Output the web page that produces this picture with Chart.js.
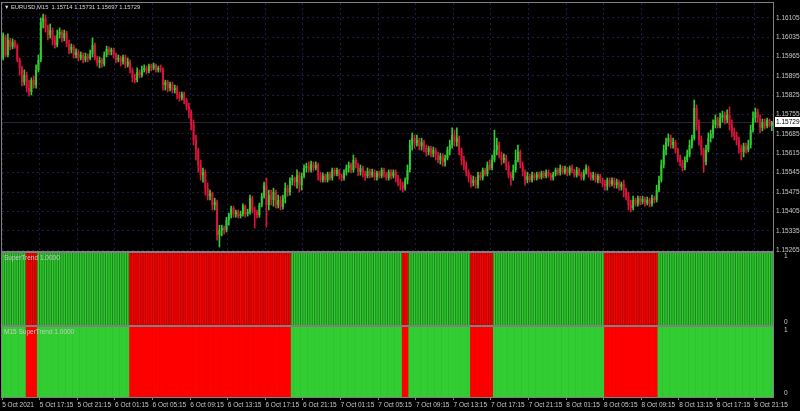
<!DOCTYPE html>
<html>
<head>
<meta charset="utf-8">
<title>EURUSD,M15 SuperTrend</title>
<script src="https://cdn.jsdelivr.net/npm/chart.js@4.4.0/dist/chart.umd.min.js"></script>
<style>
  html, body { margin: 0; padding: 0; background: #000; }
  #wrap { width: 800px; height: 411px; }
</style>
</head>
<body>
<div id="wrap"><canvas id="chart" width="800" height="411"></canvas></div>
<script>
// EURUSD M15 candles (one row = 10 bars)
const opens = [
  1.15960,1.16036,1.15971,1.16025,1.16000,1.16018,1.16003,1.15953,1.15924,1.15873,
  1.15898,1.15851,1.15837,1.15880,1.15862,1.15917,1.15953,1.16090,1.16105,1.16069,
  1.16043,1.16061,1.16025,1.16007,1.16043,1.16054,1.16032,1.16051,1.16011,1.15989,
  1.16000,1.15971,1.15982,1.15960,1.15971,1.15953,1.15967,1.15960,1.15975,1.16007,
  1.15960,1.15942,1.15953,1.15938,1.15971,1.15993,1.15982,1.15989,1.15971,1.15953,
  1.15960,1.15946,1.15964,1.15935,1.15946,1.15917,1.15888,1.15880,1.15909,1.15898,
  1.15917,1.15924,1.15913,1.15931,1.15924,1.15935,1.15917,1.15924,1.15917,1.15862,
  1.15873,1.15851,1.15866,1.15844,1.15851,1.15826,1.15815,1.15830,1.15808,1.15786,
  1.15765,1.15717,1.15663,1.15627,1.15573,1.15536,1.15547,1.15489,1.15460,1.15471,
  1.15428,1.15439,1.15319,1.15337,1.15345,1.15337,1.15374,1.15392,1.15417,1.15395,
  1.15403,1.15388,1.15395,1.15424,1.15395,1.15403,1.15453,1.15410,1.15403,1.15392,
  1.15428,1.15460,1.15500,1.15428,1.15464,1.15446,1.15475,1.15428,1.15446,1.15421,
  1.15453,1.15489,1.15475,1.15518,1.15526,1.15511,1.15536,1.15500,1.15533,1.15562,
  1.15569,1.15555,1.15576,1.15562,1.15573,1.15536,1.15518,1.15533,1.15518,1.15540,
  1.15526,1.15555,1.15540,1.15555,1.15533,1.15526,1.15547,1.15562,1.15573,1.15555,
  1.15591,1.15573,1.15547,1.15562,1.15540,1.15533,1.15551,1.15536,1.15547,1.15529,
  1.15544,1.15533,1.15555,1.15540,1.15526,1.15547,1.15533,1.15547,1.15526,1.15511,
  1.15500,1.15489,1.15518,1.15555,1.15645,1.15670,1.15652,1.15663,1.15641,1.15656,
  1.15634,1.15620,1.15634,1.15613,1.15627,1.15609,1.15591,1.15605,1.15584,1.15598,
  1.15627,1.15645,1.15681,1.15656,1.15670,1.15627,1.15591,1.15573,1.15547,1.15526,
  1.15508,1.15518,1.15500,1.15536,1.15526,1.15555,1.15540,1.15573,1.15562,1.15591,
  1.15627,1.15645,1.15609,1.15591,1.15598,1.15573,1.15536,1.15526,1.15555,1.15591,
  1.15620,1.15573,1.15547,1.15518,1.15533,1.15518,1.15536,1.15526,1.15540,1.15529,
  1.15544,1.15533,1.15547,1.15536,1.15526,1.15540,1.15555,1.15544,1.15562,1.15547,
  1.15558,1.15544,1.15562,1.15551,1.15536,1.15555,1.15540,1.15526,1.15547,1.15562,
  1.15540,1.15526,1.15536,1.15518,1.15533,1.15518,1.15504,1.15497,1.15518,1.15504,
  1.15518,1.15500,1.15511,1.15493,1.15504,1.15482,1.15460,1.15428,1.15417,1.15446,
  1.15432,1.15453,1.15439,1.15450,1.15435,1.15446,1.15432,1.15453,1.15446,1.15482,
  1.15518,1.15573,1.15627,1.15656,1.15670,1.15645,1.15656,1.15627,1.15598,1.15580,
  1.15562,1.15591,1.15609,1.15645,1.15670,1.15779,1.15717,1.15663,1.15627,1.15584,
  1.15627,1.15670,1.15685,1.15717,1.15736,1.15714,1.15743,1.15754,1.15736,1.15754,
  1.15717,1.15692,1.15678,1.15663,1.15634,1.15620,1.15641,1.15627,1.15645,1.15699,
  1.15743,1.15765,1.15743,1.15707,1.15728,1.15714,1.15736,1.15714
];
const highs = [
  1.16051,1.16043,1.16047,1.16032,1.16029,1.16025,1.16011,1.15960,1.15931,1.15917,
  1.15909,1.15880,1.15888,1.15895,1.15935,1.15971,1.16105,1.16119,1.16116,1.16079,
  1.16083,1.16069,1.16040,1.16061,1.16069,1.16061,1.16061,1.16058,1.16025,1.16011,
  1.16007,1.15993,1.15989,1.15982,1.15978,1.15978,1.15975,1.15989,1.16032,1.16014,
  1.15967,1.15964,1.15960,1.15982,1.16003,1.16000,1.15996,1.15996,1.15978,1.15971,
  1.15967,1.15971,1.15971,1.15960,1.15953,1.15924,1.15902,1.15924,1.15917,1.15931,
  1.15935,1.15931,1.15938,1.15938,1.15942,1.15938,1.15931,1.15935,1.15924,1.15880,
  1.15880,1.15873,1.15873,1.15862,1.15859,1.15837,1.15837,1.15837,1.15815,1.15797,
  1.15772,1.15736,1.15681,1.15634,1.15591,1.15562,1.15555,1.15508,1.15482,1.15475,
  1.15453,1.15446,1.15355,1.15355,1.15352,1.15384,1.15399,1.15424,1.15424,1.15410,
  1.15410,1.15406,1.15432,1.15428,1.15413,1.15464,1.15460,1.15421,1.15410,1.15435,
  1.15471,1.15511,1.15526,1.15482,1.15482,1.15489,1.15482,1.15464,1.15460,1.15464,
  1.15508,1.15500,1.15526,1.15536,1.15529,1.15555,1.15547,1.15544,1.15573,1.15580,
  1.15584,1.15587,1.15584,1.15584,1.15580,1.15547,1.15544,1.15540,1.15547,1.15547,
  1.15562,1.15562,1.15562,1.15558,1.15540,1.15555,1.15573,1.15584,1.15580,1.15609,
  1.15598,1.15580,1.15573,1.15569,1.15551,1.15562,1.15558,1.15558,1.15555,1.15551,
  1.15551,1.15562,1.15562,1.15547,1.15555,1.15555,1.15555,1.15555,1.15536,1.15522,
  1.15511,1.15526,1.15573,1.15663,1.15689,1.15681,1.15681,1.15670,1.15670,1.15663,
  1.15645,1.15641,1.15641,1.15638,1.15634,1.15620,1.15616,1.15613,1.15609,1.15638,
  1.15663,1.15707,1.15699,1.15707,1.15678,1.15634,1.15605,1.15584,1.15555,1.15536,
  1.15533,1.15529,1.15547,1.15547,1.15562,1.15562,1.15584,1.15591,1.15609,1.15699,
  1.15670,1.15656,1.15620,1.15613,1.15609,1.15584,1.15547,1.15573,1.15627,1.15645,
  1.15627,1.15584,1.15555,1.15547,1.15540,1.15547,1.15544,1.15547,1.15547,1.15551,
  1.15551,1.15555,1.15555,1.15544,1.15547,1.15562,1.15562,1.15573,1.15569,1.15569,
  1.15565,1.15569,1.15573,1.15558,1.15565,1.15562,1.15547,1.15555,1.15573,1.15569,
  1.15547,1.15547,1.15544,1.15540,1.15540,1.15526,1.15518,1.15526,1.15526,1.15526,
  1.15526,1.15522,1.15518,1.15511,1.15518,1.15489,1.15475,1.15446,1.15460,1.15453,
  1.15460,1.15460,1.15460,1.15457,1.15457,1.15453,1.15464,1.15460,1.15500,1.15533,
  1.15591,1.15645,1.15670,1.15685,1.15681,1.15670,1.15663,1.15634,1.15609,1.15591,
  1.15602,1.15627,1.15663,1.15681,1.15808,1.15790,1.15736,1.15678,1.15634,1.15645,
  1.15689,1.15699,1.15736,1.15754,1.15746,1.15761,1.15768,1.15765,1.15772,1.15783,
  1.15736,1.15707,1.15692,1.15674,1.15645,1.15652,1.15652,1.15663,1.15717,1.15765,
  1.15779,1.15775,1.15754,1.15739,1.15739,1.15743,1.15739,1.15731
];
const lows = [
  1.15953,1.15964,1.15964,1.15989,1.15993,1.15996,1.15946,1.15898,1.15859,1.15862,
  1.15837,1.15822,1.15826,1.15851,1.15851,1.15909,1.15946,1.16069,1.16054,1.16025,
  1.16032,1.16007,1.15996,1.16000,1.16032,1.16018,1.16022,1.16000,1.15975,1.15978,
  1.15960,1.15960,1.15949,1.15953,1.15942,1.15946,1.15946,1.15953,1.15964,1.15953,
  1.15931,1.15924,1.15927,1.15931,1.15964,1.15971,1.15971,1.15960,1.15942,1.15946,
  1.15931,1.15938,1.15924,1.15927,1.15906,1.15873,1.15870,1.15873,1.15888,1.15891,
  1.15909,1.15902,1.15906,1.15913,1.15917,1.15909,1.15909,1.15909,1.15844,1.15844,
  1.15837,1.15841,1.15833,1.15833,1.15812,1.15804,1.15808,1.15794,1.15772,1.15743,
  1.15699,1.15645,1.15591,1.15547,1.15518,1.15511,1.15464,1.15446,1.15446,1.15410,
  1.15410,1.15301,1.15276,1.15316,1.15323,1.15330,1.15355,1.15381,1.15384,1.15384,
  1.15381,1.15381,1.15388,1.15384,1.15388,1.15395,1.15399,1.15345,1.15381,1.15384,
  1.15421,1.15453,1.15348,1.15410,1.15428,1.15424,1.15417,1.15417,1.15410,1.15413,
  1.15435,1.15460,1.15464,1.15500,1.15497,1.15489,1.15475,1.15482,1.15526,1.15547,
  1.15547,1.15547,1.15551,1.15555,1.15518,1.15511,1.15511,1.15511,1.15511,1.15518,
  1.15518,1.15533,1.15533,1.15522,1.15515,1.15518,1.15536,1.15547,1.15544,1.15547,
  1.15562,1.15533,1.15536,1.15529,1.15518,1.15526,1.15526,1.15529,1.15518,1.15518,
  1.15526,1.15526,1.15529,1.15518,1.15518,1.15522,1.15526,1.15511,1.15497,1.15482,
  1.15475,1.15482,1.15504,1.15547,1.15627,1.15634,1.15641,1.15627,1.15627,1.15620,
  1.15605,1.15609,1.15602,1.15602,1.15591,1.15580,1.15576,1.15569,1.15569,1.15591,
  1.15609,1.15634,1.15641,1.15641,1.15609,1.15573,1.15555,1.15533,1.15511,1.15493,
  1.15497,1.15489,1.15489,1.15518,1.15518,1.15533,1.15533,1.15555,1.15555,1.15584,
  1.15609,1.15598,1.15573,1.15580,1.15555,1.15526,1.15500,1.15518,1.15547,1.15584,
  1.15562,1.15533,1.15500,1.15508,1.15511,1.15511,1.15518,1.15518,1.15522,1.15522,
  1.15526,1.15526,1.15529,1.15518,1.15518,1.15533,1.15536,1.15536,1.15540,1.15540,
  1.15533,1.15536,1.15544,1.15529,1.15529,1.15533,1.15518,1.15518,1.15540,1.15529,
  1.15518,1.15518,1.15511,1.15508,1.15508,1.15493,1.15482,1.15482,1.15493,1.15497,
  1.15489,1.15489,1.15482,1.15482,1.15457,1.15446,1.15410,1.15403,1.15410,1.15424,
  1.15424,1.15428,1.15432,1.15424,1.15428,1.15421,1.15424,1.15435,1.15439,1.15475,
  1.15511,1.15562,1.15609,1.15641,1.15634,1.15634,1.15616,1.15584,1.15569,1.15551,
  1.15555,1.15584,1.15602,1.15634,1.15663,1.15699,1.15645,1.15609,1.15547,1.15573,
  1.15620,1.15656,1.15670,1.15707,1.15707,1.15707,1.15728,1.15721,1.15725,1.15699,
  1.15674,1.15663,1.15645,1.15616,1.15591,1.15602,1.15616,1.15620,1.15634,1.15692,
  1.15728,1.15728,1.15689,1.15696,1.15703,1.15707,1.15710,1.15697
];
const closes = [
  1.16043,1.15971,1.16025,1.16000,1.16018,1.16003,1.15953,1.15924,1.15873,1.15898,
  1.15851,1.15837,1.15880,1.15862,1.15917,1.15953,1.16090,1.16105,1.16069,1.16043,
  1.16061,1.16025,1.16007,1.16043,1.16054,1.16032,1.16051,1.16011,1.15989,1.16000,
  1.15971,1.15982,1.15960,1.15971,1.15953,1.15967,1.15960,1.15975,1.16007,1.15960,
  1.15942,1.15953,1.15938,1.15971,1.15993,1.15982,1.15989,1.15971,1.15953,1.15960,
  1.15946,1.15964,1.15935,1.15946,1.15917,1.15888,1.15880,1.15909,1.15898,1.15917,
  1.15924,1.15913,1.15931,1.15924,1.15935,1.15917,1.15924,1.15917,1.15862,1.15873,
  1.15851,1.15866,1.15844,1.15851,1.15826,1.15815,1.15830,1.15808,1.15786,1.15765,
  1.15717,1.15663,1.15627,1.15573,1.15536,1.15547,1.15489,1.15460,1.15471,1.15428,
  1.15439,1.15319,1.15337,1.15345,1.15337,1.15374,1.15392,1.15417,1.15395,1.15403,
  1.15388,1.15395,1.15424,1.15395,1.15403,1.15453,1.15410,1.15403,1.15392,1.15428,
  1.15460,1.15500,1.15428,1.15464,1.15446,1.15475,1.15428,1.15446,1.15421,1.15453,
  1.15489,1.15475,1.15518,1.15526,1.15511,1.15536,1.15500,1.15533,1.15562,1.15569,
  1.15555,1.15576,1.15562,1.15573,1.15536,1.15518,1.15533,1.15518,1.15540,1.15526,
  1.15555,1.15540,1.15555,1.15533,1.15526,1.15547,1.15562,1.15573,1.15555,1.15591,
  1.15573,1.15547,1.15562,1.15540,1.15533,1.15551,1.15536,1.15547,1.15529,1.15544,
  1.15533,1.15555,1.15540,1.15526,1.15547,1.15533,1.15547,1.15526,1.15511,1.15500,
  1.15489,1.15518,1.15555,1.15645,1.15670,1.15652,1.15663,1.15641,1.15656,1.15634,
  1.15620,1.15634,1.15613,1.15627,1.15609,1.15591,1.15605,1.15584,1.15598,1.15627,
  1.15645,1.15681,1.15656,1.15670,1.15627,1.15591,1.15573,1.15547,1.15526,1.15508,
  1.15518,1.15500,1.15536,1.15526,1.15555,1.15540,1.15573,1.15562,1.15591,1.15627,
  1.15645,1.15609,1.15591,1.15598,1.15573,1.15536,1.15526,1.15555,1.15591,1.15620,
  1.15573,1.15547,1.15518,1.15533,1.15518,1.15536,1.15526,1.15540,1.15529,1.15544,
  1.15533,1.15547,1.15536,1.15526,1.15540,1.15555,1.15544,1.15562,1.15547,1.15558,
  1.15544,1.15562,1.15551,1.15536,1.15555,1.15540,1.15526,1.15547,1.15562,1.15540,
  1.15526,1.15536,1.15518,1.15533,1.15518,1.15504,1.15497,1.15518,1.15504,1.15518,
  1.15500,1.15511,1.15493,1.15504,1.15482,1.15460,1.15428,1.15417,1.15446,1.15432,
  1.15453,1.15439,1.15450,1.15435,1.15446,1.15432,1.15453,1.15446,1.15482,1.15518,
  1.15573,1.15627,1.15656,1.15670,1.15645,1.15656,1.15627,1.15598,1.15580,1.15562,
  1.15591,1.15609,1.15645,1.15670,1.15779,1.15717,1.15663,1.15627,1.15584,1.15627,
  1.15670,1.15685,1.15717,1.15736,1.15714,1.15743,1.15754,1.15736,1.15754,1.15717,
  1.15692,1.15678,1.15663,1.15634,1.15620,1.15641,1.15627,1.15645,1.15699,1.15743,
  1.15765,1.15743,1.15707,1.15728,1.15714,1.15736,1.15714,1.15729
];

// SuperTrend direction per bar: 1 = up (green), 0 = down (red)
const trend = [
  1,1,1,1,1,1,1,1,1,1,  0,0,0,0,0,1,1,1,1,1,  1,1,1,1,1,1,1,1,1,1,
  1,1,1,1,1,1,1,1,1,1,  1,1,1,1,1,1,1,1,1,1,  1,1,1,1,0,0,0,0,0,0,
  0,0,0,0,0,0,0,0,0,0,  0,0,0,0,0,0,0,0,0,0,  0,0,0,0,0,0,0,0,0,0,
  0,0,0,0,0,0,0,0,0,0,  0,0,0,0,0,0,0,0,0,0,  0,0,0,0,0,0,0,0,0,0,
  0,0,0,1,1,1,1,1,1,1,  1,1,1,1,1,1,1,1,1,1,  1,1,1,1,1,1,1,1,1,1,
  1,1,1,1,1,1,1,1,1,1,  1,1,1,1,1,1,1,1,1,1,  0,0,0,1,1,1,1,1,1,1,
  1,1,1,1,1,1,1,1,1,1,  1,1,1,1,1,1,1,1,1,0,  0,0,0,0,0,0,0,0,0,1,
  1,1,1,1,1,1,1,1,1,1,  1,1,1,1,1,1,1,1,1,1,  1,1,1,1,1,1,1,1,1,1,
  1,1,1,1,1,1,1,1,1,1,  1,1,1,1,1,1,0,0,0,0,  0,0,0,0,0,0,0,0,0,0,
  0,0,0,0,0,0,0,0,0,1,  1,1,1,1,1,1,1,1,1,1,  1,1,1,1,1,1,1,1,1,1,
  1,1,1,1,1,1,1,1,1,1,  1,1,1,1,1,1,1,1,1,1,  1,1,1,1,1,1,1,1
];

// one time label every 16 bars (4 hours)
const timeLabels = [
  '5 Oct 2021', '5 Oct 17:15', '5 Oct 21:15', '6 Oct 01:15', '6 Oct 05:15',
  '6 Oct 09:15', '6 Oct 13:15', '6 Oct 17:15', '6 Oct 21:15', '7 Oct 01:15',
  '7 Oct 05:15', '7 Oct 09:15', '7 Oct 13:15', '7 Oct 17:15', '7 Oct 21:15',
  '8 Oct 01:15', '8 Oct 05:15', '8 Oct 09:15', '8 Oct 13:15', '8 Oct 17:15',
  '8 Oct 21:15'
];
const priceTicks = [
  1.15265, 1.15335, 1.15405, 1.15475, 1.15545, 1.15615, 1.15685,
  1.15755, 1.15825, 1.15895, 1.15965, 1.16035, 1.16105
];
const headerText = 'EURUSD,M15  1.15714 1.15731 1.15697 1.15729';

const colors = {
  bull: '#32cd32',
  bear: '#dc143c',
  up: '#32cd32',
  upDark: '#1f8c1f',
  down: '#ff0000',
  downDark: '#b40000',
  grid: '#1c1c4c',
  frame: '#808080',
  text: '#c8c8c8'
};
const FONT_FAMILY = '"Liberation Sans", Arial, "DejaVu Sans", sans-serif';
const LABEL_EVERY = 16;

const bars = opens.map((_, i) => i);
const candleColors = opens.map((o, i) => closes[i] >= o ? colors.bull : colors.bear);
const upBuf = trend;
const dnBuf = trend.map(t => 1 - t);

// fixed widths so the panes line up with the screenshot;
// also drop the label overflow padding chart.js adds around the plot
function rightAxisFit(scale) {
    scale.width = 27;
    scale.paddingTop = 0;
    scale.paddingBottom = 0;
}
function paneTicks(scale) { scale.ticks = [{ value: 0 }, { value: 1 }]; }
// push "1" below the top edge and "0" above the bottom edge, like MT4
function paneLabel(v) { return v === 1 ? ['', '1'] : ['0', '']; }

const paneAxis = (weight) => ({
    type: 'linear',
    position: 'right',
    stack: 'panes',
    stackWeight: weight,
    min: 0,
    max: 1,
    afterBuildTicks: paneTicks,
    afterFit: rightAxisFit,
    grid: { display: false },
    border: { display: false },
    ticks: {
        autoSkip: false,
        color: colors.text,
        padding: 3,
        font: { family: FONT_FAMILY, size: 6.5 },
        callback: paneLabel
    }
});

const histBar = (axis, data, color, pct) => ({
    type: 'bar',
    yAxisID: axis,
    data: data,
    backgroundColor: color,
    grouped: false,
    categoryPercentage: 1,
    barPercentage: pct
});

const chartDecor = {
    id: 'chartDecor',
    beforeDraw(chart) {
        const { ctx, width, height } = chart;
        ctx.save();
        ctx.fillStyle = '#000';
        ctx.fillRect(0, 0, width, height);
        ctx.restore();
    },
    beforeDatasetsDraw(chart) {
        // bid line
        const { ctx, chartArea: a, scales } = chart;
        const y = Math.round(scales.y.getPixelForValue(closes[closes.length - 1])) + 0.5;
        ctx.save();
        ctx.strokeStyle = '#262638';
        ctx.lineWidth = 1;
        ctx.beginPath();
        ctx.moveTo(a.left, y);
        ctx.lineTo(a.right, y);
        ctx.stroke();
        ctx.restore();
    },
    afterDraw(chart) {
        const { ctx, chartArea: a, scales } = chart;
        ctx.save();

        // frame and pane separators
        ctx.strokeStyle = colors.frame;
        ctx.lineWidth = 1;
        ctx.strokeRect(a.left - 0.5, a.top - 0.5, a.right - a.left + 1, a.bottom - a.top + 1);
        ctx.fillStyle = colors.frame;
        [scales.y.bottom, scales.st1.bottom].forEach(y => {
            ctx.fillRect(a.left, Math.round(y) - 1, a.right - a.left, 2);
        });

        // chart header
        ctx.fillStyle = '#d8d8d8';
        ctx.textBaseline = 'middle';
        ctx.textAlign = 'left';
        ctx.font = '5.5px ' + FONT_FAMILY;
        ctx.fillText('\u25BC', 4, a.top + 4);
        ctx.font = '5.8px ' + FONT_FAMILY;
        ctx.fillText(headerText, 11, a.top + 4);

        // indicator names
        ctx.font = '6.5px ' + FONT_FAMILY;
        ctx.fillStyle = colors.text;
        ctx.fillText('SuperTrend 1.0000', 4, scales.st1.top + 6);
        ctx.fillText('M15 SuperTrend 1.0000', 4, scales.st2.top + 6);

        // current price box on the price axis
        const py = Math.round(scales.y.getPixelForValue(closes[closes.length - 1]));
        ctx.fillStyle = '#ffffff';
        ctx.fillRect(a.right + 2, py - 5, 25, 10);
        ctx.fillStyle = '#000000';
        ctx.fillText(closes[closes.length - 1].toFixed(5), a.right + 3, py + 0.5);
        ctx.restore();
    }
};

const ctx = document.getElementById('chart');
new Chart(ctx, {
    type: 'bar',
    data: {
        labels: bars,
        datasets: [
            {
                type: 'bar',
                label: 'body',
                yAxisID: 'y',
                data: opens.map((o, i) => [o, closes[i]]),
                backgroundColor: candleColors,
                grouped: false,
                categoryPercentage: 1,
                barPercentage: 0.8
            },
            {
                type: 'bar',
                label: 'wick',
                yAxisID: 'y',
                data: lows.map((l, i) => [l, highs[i]]),
                backgroundColor: candleColors,
                grouped: false,
                barThickness: 1
            },
            histBar('st1', upBuf, colors.up, 0.5),
            histBar('st1', dnBuf, colors.down, 0.5),
            histBar('st1', upBuf, colors.upDark, 1.25),
            histBar('st1', dnBuf, colors.downDark, 1.25),
            histBar('st2', upBuf, colors.up, 1.25),
            histBar('st2', dnBuf, colors.down, 1.25)
        ]
    },
    options: {
        responsive: false,
        animation: false,
        events: [],
        layout: { padding: { top: 3, left: 2, right: 0, bottom: 0 } },
        plugins: {
            legend: { display: false },
            tooltip: { enabled: false }
        },
        scales: {
            x: {
                type: 'category',
                offset: true,
                afterFit: (scale) => {
                    scale.height = 14;
                    scale.paddingLeft = 0;
                    scale.paddingRight = 0;
                },
                grid: {
                    offset: true,
                    color: (c) => c.index % LABEL_EVERY === 0 ? colors.grid : 'transparent',
                    tickColor: (c) => c.index % LABEL_EVERY === 0 ? colors.frame : 'transparent',
                    tickLength: 3
                },
                border: { display: false, dash: [2, 3] },
                ticks: {
                    autoSkip: false,
                    maxRotation: 0,
                    minRotation: 0,
                    align: 'start',
                    labelOffset: -1,
                    padding: 1,
                    color: colors.text,
                    font: { family: FONT_FAMILY, size: 6.5 },
                    callback: (v, i) => i % LABEL_EVERY === 0 ? timeLabels[i / LABEL_EVERY] : ''
                }
            },
            y: {
                type: 'linear',
                position: 'right',
                stack: 'panes',
                stackWeight: 249,
                min: 1.15258,
                max: 1.16159,
                afterBuildTicks: (scale) => { scale.ticks = priceTicks.map(v => ({ value: v })); },
                afterFit: rightAxisFit,
                grid: { color: colors.grid, drawTicks: false },
                border: { display: false, dash: [2, 3] },
                ticks: {
                    autoSkip: false,
                    color: colors.text,
                    padding: 3,
                    font: { family: FONT_FAMILY, size: 6.5 },
                    callback: (v) => v.toFixed(5)
                }
            },
            st1: paneAxis(74),
            st2: paneAxis(71)
        }
    },
    plugins: [chartDecor]
});
</script>
</body>
</html>
